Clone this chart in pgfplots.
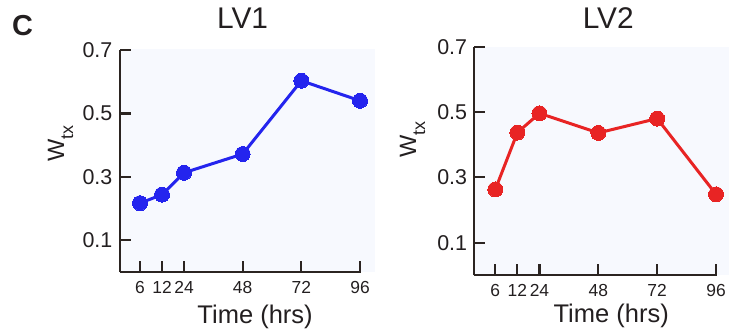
\documentclass[border=0pt]{standalone}
\usepackage{pgfplots}
\pgfplotsset{compat=1.18}
\usepackage{fontspec}
\setmainfont{Liberation Sans}
\definecolor{txt}{HTML}{231F20}
\definecolor{ax}{HTML}{2B2421}
\definecolor{bg}{HTML}{F7F9FE}
\definecolor{lvblue}{HTML}{2424EE}
\definecolor{lvred}{HTML}{E82424}
\pgfplotsset{
  lvstyle/.style={
    scale only axis,
    clip=false,
    axis x line*=bottom, axis y line*=left,
    axis line style={ax, line width=2.2bp},
    every tick/.style={ax, line width=2.2bp},
    major tick length=11bp,
    tick align=inside,
    xmax=3.77, ymin=0, ymax=0.7,
    xtick={0,0.375,0.75,1.75,2.75,3.75},
    xticklabels={6,12,24,48,72,96},
    ytick={0.1,0.3,0.5,0.7},
    yticklabels={0.1,0.3,0.5,0.7},
    xticklabel style={font=\fontsize{17.5}{17.5}\selectfont, text=txt, anchor=base, yshift=-21.3bp, inner sep=0pt},
    yticklabel style={font=\fontsize{21.5}{21.5}\selectfont, text=txt, anchor=east, inner sep=0pt},
    title style={font=\fontsize{30}{30}\selectfont, text=txt, at={(0.5,1)}, anchor=base},
    xlabel style={font=\fontsize{25.6}{25.6}\selectfont, text=txt, at={(0.5,0)}, anchor=base},
    ylabel style={font=\fontsize{23.7}{23.7}\selectfont, text=txt, anchor=base west, inner sep=0pt},
    xlabel={Time (hrs)},
    ylabel={W\raisebox{-9bp}{\fontsize{18}{18}\selectfont tx}},
  },
}
\begin{document}
\begin{tikzpicture}
\path[use as bounding box] (0,0) rectangle (729bp,332bp);
\fill[bg] (120bp,60bp) rectangle (375bp,283bp);
\fill[bg] (474.3bp,56.7bp) rectangle (729bp,285.3bp);
\node[anchor=base west, text=txt, inner sep=0pt, font=\bfseries\fontsize{29}{29}\selectfont] at (12bp,296bp) {C};
\begin{axis}[lvstyle,
  at={(120bp,60bp)}, anchor=south west,
  width=241.2bp, height=222bp,
  xmin=-0.341,
  title={LV1},
  title style={yshift=15.7bp, xshift=2bp},
  xlabel style={yshift=-51.3bp, xshift=14.5bp},
  ylabel style={at={(-0.232,0.495)}},
  yticklabel style={xshift=-7.5bp},
]
\addplot[lvblue, line width=3bp, mark=*, mark size=7.5bp, mark options={fill=lvblue, draw=lvblue, line width=0pt}]
  coordinates {(0,0.217) (0.375,0.244) (0.75,0.313) (1.75,0.372) (2.75,0.603) (3.75,0.540)};
\end{axis}
\begin{axis}[lvstyle,
  at={(474.3bp,56.7bp)}, anchor=south west,
  width=242.9bp, height=228.6bp,
  xmin=-0.357,
  title={LV2},
  title style={yshift=12bp, xshift=12.5bp},
  xlabel style={yshift=-46.7bp, xshift=15.4bp},
  ylabel style={at={(-0.24,0.513)}},
  yticklabel style={xshift=-7bp},
]
\addplot[lvred, line width=3bp, mark=*, mark size=7.5bp, mark options={fill=lvred, draw=lvred, line width=0pt}]
  coordinates {(0,0.263) (0.375,0.437) (0.75,0.496) (1.75,0.436) (2.75,0.480) (3.75,0.248)};
\end{axis}
\end{tikzpicture}
\end{document}
